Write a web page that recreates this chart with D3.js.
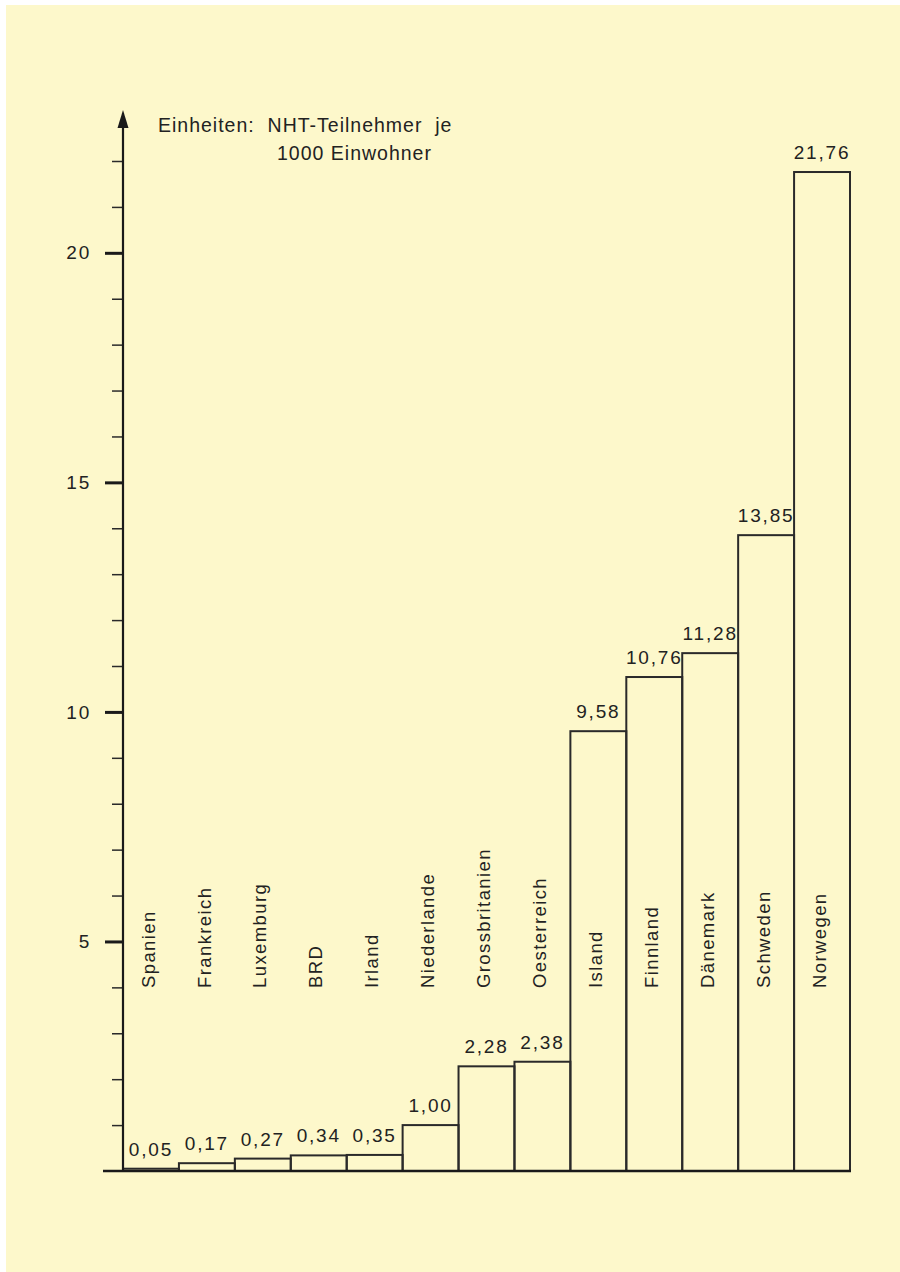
<!DOCTYPE html>
<html>
<head>
<meta charset="utf-8">
<script src="https://cdn.jsdelivr.net/npm/d3@7"></script>
<style>
  html, body { margin: 0; padding: 0; overflow: hidden; background: #fdf8cb; }
  svg { display: block; }
  text { font-family: "Liberation Sans", Arial, sans-serif; fill: #222; }
</style>
</head>
<body>
<script>
var width = 900,
    height = 1272;

// data
var countries = ["Spanien", "Frankreich", "Luxemburg", "BRD", "Irland", "Niederlande",
    "Grossbritanien", "Oesterreich", "Island", "Finnland", "Dänemark", "Schweden", "Norwegen"];
var values = [0.05, 0.17, 0.27, 0.34, 0.35, 1.00, 2.28, 2.38, 9.58, 10.76, 11.28, 13.85, 21.76];
var valueLabels = ["0,05", "0,17", "0,27", "0,34", "0,35", "1,00", "2,28", "2,38", "9,58", "10,76", "11,28", "13,85", "21,76"];
var majorTicks = [5, 10, 15, 20];
var unitLabel = ["Einheiten:  NHT-Teilnehmer  je", "1000 Einwohner"];

var svg = d3.select("body").append("svg").attr("width", width).attr("height", height);

// paper, with the thin white scan edge on the top and left
svg.append("rect").attr("width", width).attr("height", height).attr("fill", "#ffffff");
svg.append("rect").attr("x", 6).attr("y", 5).attr("width", width - 6).attr("height", height - 5)
    .attr("fill", "#fdf8cb");

var x = d3.scaleBand()
    .domain(countries)
    .range([123, 850])
    .paddingInner(0).paddingOuter(0);

var y = d3.scaleLinear()
    .domain([0, 22])
    .range([1171, 161]);

var g = svg.append("g");

// bars
g.selectAll("rect.bar").data(values).enter().append("rect")
    .attr("class", "bar")
    .attr("x", (d, i) => x(countries[i]))
    .attr("y", (d) => y(d))
    .attr("width", x.bandwidth())
    .attr("height", (d) => y(0) - y(d))
    .attr("fill", "none")
    .attr("stroke", "#2a2a2a")
    .attr("stroke-width", 2);

// value labels above bars
g.selectAll("text.val").data(values).enter().append("text")
    .attr("class", "val")
    .attr("x", (d, i) => x(countries[i]) + x.bandwidth() / 2)
    .attr("y", (d) => y(d) - 13)
    .attr("text-anchor", "middle")
    .attr("font-size", 19)
    .attr("letter-spacing", 1.8)
    .text((d, i) => valueLabels[i]);

// country names, vertical
g.selectAll("text.country").data(countries).enter().append("text")
    .attr("class", "country")
    .attr("transform", (d) => "translate(" + (x(d) + x.bandwidth() / 2 - 3) + ",988) rotate(-90)")
    .attr("dy", "0.36em")
    .attr("font-size", 18.5)
    .attr("letter-spacing", 1.4)
    .text((d) => d);

// y axis: minor ticks every unit, major ones labelled
var axis = g.append("g").attr("transform", "translate(123,0)")
    .call(d3.axisLeft(y).tickValues(d3.range(1, 23)).tickSize(11).tickFormat(""));
axis.select(".domain").remove();
axis.selectAll(".tick line").attr("stroke", "#2a2a2a").attr("stroke-width", 1.5);

var major = g.append("g").attr("transform", "translate(123,0)")
    .call(d3.axisLeft(y).tickValues(majorTicks).tickSize(18).tickPadding(14));
major.select(".domain").remove();
major.selectAll(".tick line").attr("stroke", "#1a1a1a").attr("stroke-width", 3);
major.selectAll(".tick text")
    .attr("font-family", "Liberation Sans, Arial, sans-serif")
    .attr("font-size", 19)
    .attr("letter-spacing", 1.8)
    .attr("fill", "#222");

// axis line with arrow
g.append("line")
    .attr("x1", 123).attr("x2", 123)
    .attr("y1", y(0) + 1).attr("y2", 124)
    .attr("stroke", "#1a1a1a").attr("stroke-width", 2.2);
g.append("path")
    .attr("d", "M123,110 L117.5,128 L128.5,128 Z")
    .attr("fill", "#1a1a1a");

// baseline
g.append("line")
    .attr("x1", 103).attr("x2", 851)
    .attr("y1", y(0)).attr("y2", y(0))
    .attr("stroke", "#1a1a1a").attr("stroke-width", 2.5);

// unit note
g.append("text")
    .attr("x", 158).attr("y", 132)
    .attr("font-size", 19.5)
    .attr("letter-spacing", 1)
    .style("white-space", "pre")
    .text(unitLabel[0]);
g.append("text")
    .attr("x", 277).attr("y", 160)
    .attr("font-size", 19.5)
    .attr("letter-spacing", 1)
    .text(unitLabel[1]);
</script>
</body>
</html>
